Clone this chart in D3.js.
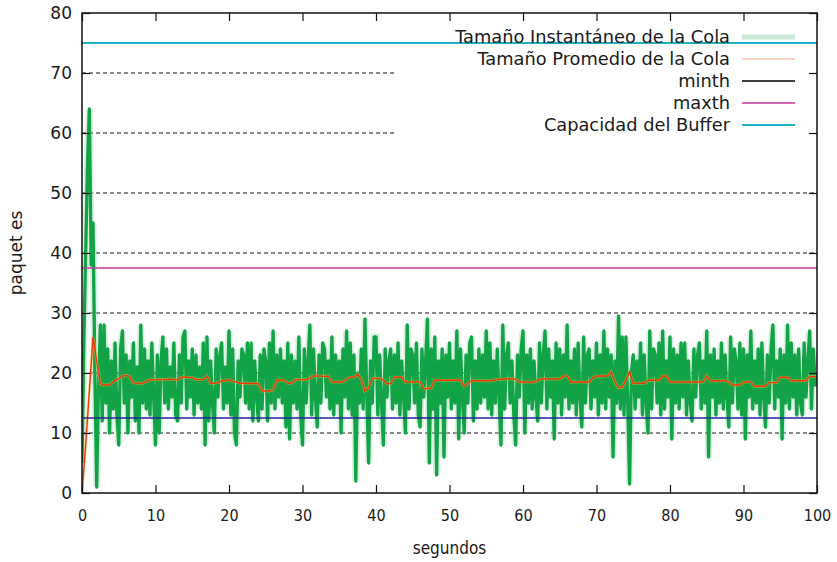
<!DOCTYPE html>
<html>
<head>
<meta charset="utf-8">
<script src="https://cdn.jsdelivr.net/npm/d3@7"></script>
<style>
body { margin: 0; background: #fff; }
text { font-family: "DejaVu Sans", sans-serif; fill: #1a1a1a; }
.condensed { font-family: "DejaVu Sans Condensed", "DejaVu Sans", sans-serif; }
</style>
</head>
<body>
<svg id="chart" width="837" height="562"></svg>
<script>
SAMPLE_STEP_INST = 0.25
SAMPLE_STEP_AVG = 0.5

/* Tamaño instantáneo de la cola, one sample every 0.25 s */
var instQueue = [
    5, 25, 40, 55,  64, 38, 45, 20,  1, 18, 28, 12,  28, 15, 24, 10,  22, 14, 25, 13,
    8, 24, 27, 15,  23, 10, 22, 16,  25, 12, 21, 10,  28, 15, 24, 14,  22, 13, 25, 16,
    8, 23, 10, 22,  26, 15, 24, 14,  21, 16, 25, 13,  12, 23, 15, 26,  27, 14, 22, 16,
    24, 13, 23, 15,  21, 14, 25, 8,  26, 12, 22, 15,  10, 24, 16, 23,  25, 14, 21, 15,
    27, 13, 24, 10,  8, 22, 16, 24,  23, 15, 25, 14,  25, 12, 22, 16,  12, 23, 14, 24,
    22, 12, 25, 15,  27, 14, 23, 16,  24, 15, 22, 11,  25, 9, 23, 15,  22, 14, 26, 13,
    8, 24, 15, 22,  28, 13, 24, 16,  11, 23, 15, 25,  24, 16, 22, 14,  26, 13, 23, 15,
    22, 10, 24, 16,  27, 14, 25, 13,  23, 2, 20, 15,  24, 14, 29, 16,  5, 22, 15, 26,
    26, 13, 23, 15,  8, 24, 16, 22,  24, 14, 23, 15,  25, 13, 22, 16,  10, 28, 14, 24,
    23, 15, 25, 13,  11, 24, 16, 22,  29, 5, 24, 14,  26, 3, 22, 15,  24, 6, 23, 16,
    25, 14, 22, 15,  27, 9, 24, 16,  10, 23, 15, 25,  26, 12, 22, 14,  24, 15, 23, 16,
    27, 14, 25, 13,  22, 15, 24, 16,  8, 28, 14, 23,  25, 15, 22, 13,  8, 23, 16, 24,
    27, 10, 23, 15,  24, 14, 22, 16,  12, 25, 15, 23,  27, 14, 24, 16,  22, 9, 25, 15,
    24, 13, 23, 16,  28, 14, 22, 15,  24, 13, 25, 16,  11, 26, 15, 23,  24, 14, 22, 16,
    25, 13, 23, 15,  27, 14, 24, 16,  23, 6, 22, 15,  29.5, 14, 26, 13,  26, 15, 1.5, 20,
    23, 14, 22, 16,  25, 13, 23, 15,  10, 27, 14, 24,  23, 15, 25, 13,  27, 14, 22, 16,
    26, 9, 24, 15,  23, 14, 25, 16,  25, 13, 22, 15,  12, 24, 16, 23,  25, 14, 22, 15,
    27, 6, 23, 16,  24, 13, 22, 15,  25, 14, 23, 16,  11, 26, 15, 24,  22, 14, 25, 13,
    24, 9, 23, 16,  27, 14, 22, 15,  24, 13, 25, 16,  11, 23, 15, 24,  28, 14, 22, 16,
    24, 9, 23, 15,  28, 14, 25, 16,  23, 13, 24, 15,  13, 25, 16, 22,  27, 14, 24, 18,
    20
];

/* Tamaño promedio de la cola, one sample every 0.5 s */
var avgQueue = [
    0, 8, 17, 26, 22, 18.2, 18, 18, 18.2, 18.8, 19, 19.5, 19.6, 19.4, 18.4, 18.3, 18.2, 18.4, 18.8, 18.9,
    18.9, 18.9, 18.9, 18.9, 19, 18.9, 18.9, 19.3, 19.3, 19.3, 19.2, 18.9, 18.9, 18.9, 19.5, 18.3, 18.3, 18.4, 18.7, 18.7,
    18.9, 18.6, 18.5, 18.3, 18.3, 18.3, 18.2, 18.3, 18.2, 17.0, 17.0, 17.0, 17.2, 18.8, 18.8, 18.8, 18.3, 18.3, 18.9, 18.9,
    18.9, 18.9, 19.1, 19.5, 19.5, 19.5, 19.4, 19.5, 18.5, 18.5, 18.5, 18.5, 19.0, 19.3, 19.3, 19.8, 19.0, 17.0, 17.5, 19.1,
    19.1, 19.1, 18.8, 18.2, 18.2, 19.3, 19.3, 19.3, 18.5, 18.5, 18.5, 18.6, 18.5, 17.4, 17.4, 17.5, 18.8, 18.8, 18.8, 18.8,
    18.8, 18.8, 18.8, 18.8, 17.8, 18.2, 18.7, 18.7, 18.7, 18.7, 18.7, 18.7, 18.8, 18.9, 19.0, 19.0, 19.0, 19.0, 19.0, 18.5,
    18.5, 18.5, 18.5, 18.5, 18.8, 19.0, 19.0, 19.0, 19.0, 19.0, 19.0, 19.5, 19.5, 18.5, 18.5, 18.5, 18.5, 18.5, 18.5, 19.2,
    19.5, 19.5, 19.5, 19.5, 20.2, 18.5, 17.6, 17.6, 18.8, 20.2, 18.3, 18.3, 18.3, 18.3, 18.8, 18.8, 18.8, 18.8, 19.5, 19.5,
    18.5, 18.5, 18.5, 18.5, 18.5, 18.5, 18.5, 18.5, 18.5, 18.5, 19.5, 18.7, 18.7, 18.7, 18.7, 18.7, 18.5, 18.0, 18.0, 18.0,
    18.5, 18.5, 18.5, 17.8, 17.8, 17.8, 17.8, 18.4, 18.4, 18.4, 19.3, 19.3, 19.3, 18.7, 18.7, 18.7, 18.7, 18.7, 19.4, 19.4,
    19.4
];

var xTicks = [0, 10, 20, 30, 40, 50, 60, 70, 80, 90, 100];
var yTicks = [0, 10, 20, 30, 40, 50, 60, 70, 80];
var gridLevels = [10, 20, 30, 40, 50, 60, 70];

var thresholdNames = ["minth", "maxth", "Capacidad del Buffer"];
var thresholdValues = [12.5, 37.5, 75];
var thresholdColors = ["#23239a", "#c2369e", "#1fb2c9"];

var legendLabels = [
    "Tamaño Instantáneo de la Cola",
    "Tamaño Promedio de la Cola",
    "minth",
    "maxth",
    "Capacidad del Buffer"
];

var margin = {left: 82, right: 20, top: 13, bottom: 69};
var svg = d3.select("#chart");
var width = 837 - margin.left - margin.right;
var height = 562 - margin.top - margin.bottom;

var x = d3.scaleLinear().domain([0, 100]).range([0, width]);
var y = d3.scaleLinear().domain([0, 80]).range([height, 0]);

var plot = svg.append("g")
    .attr("transform", "translate(" + margin.left + "," + margin.top + ")");

plot.append("clipPath").attr("id", "clip")
    .append("rect").attr("width", width).attr("height", height);

// dashed grid
plot.selectAll(".grid")
    .data(gridLevels)
    .enter().append("line")
    .attr("class", "grid")
    .attr("x1", 0).attr("x2", width)
    .attr("y1", function(d) { return y(d); })
    .attr("y2", function(d) { return y(d); })
    .attr("stroke", "#111")
    .attr("stroke-width", 1)
    .attr("stroke-dasharray", "4,3");

// opaque key box hides the grid behind the legend
var keyLeft = x(42.8);
plot.append("rect")
    .attr("x", keyLeft).attr("y", y(78.3))
    .attr("width", width - keyLeft - 1)
    .attr("height", y(58.8) - y(78.3))
    .attr("fill", "#fff");

var layer = plot.append("g").attr("clip-path", "url(#clip)");

// instantaneous queue: soft halo + line
var instLine = d3.line()
    .x(function(d, i) { return x(i * SAMPLE_STEP_INST); })
    .y(function(d) { return y(d); });
layer.append("path")
    .datum(instQueue)
    .attr("d", instLine)
    .attr("fill", "none")
    .attr("stroke", "#8fd8a8")
    .attr("stroke-opacity", 0.35)
    .attr("stroke-width", 7);
layer.append("path")
    .datum(instQueue)
    .attr("d", instLine)
    .attr("fill", "none")
    .attr("stroke", "#12a347")
    .attr("stroke-linejoin", "round")
    .attr("stroke-width", 3.3);

// average queue
var avgLine = d3.line()
    .x(function(d, i) { return x(i * SAMPLE_STEP_AVG); })
    .y(function(d) { return y(d); });
layer.append("path")
    .datum(avgQueue)
    .attr("d", avgLine)
    .attr("fill", "none")
    .attr("stroke", "#f0c040")
    .attr("stroke-opacity", 0.45)
    .attr("stroke-width", 3);
layer.append("path")
    .datum(avgQueue)
    .attr("d", avgLine)
    .attr("fill", "none")
    .attr("stroke", "#e8380c")
    .attr("stroke-width", 1.4);

// minth / maxth / buffer
layer.selectAll(".thr")
    .data(thresholdValues)
    .enter().append("line")
    .attr("class", "thr")
    .attr("x1", 0).attr("x2", width)
    .attr("y1", function(d) { return y(d); })
    .attr("y2", function(d) { return y(d); })
    .attr("stroke", function(d, i) { return thresholdColors[i]; })
    .attr("stroke-width", function(d, i) { return i == 2 ? 2 : 1.5; });

// axes with inward ticks, mirrored on top and right
var fmt = d3.format("d");
var bottomAxis = plot.append("g")
    .attr("transform", "translate(0," + height + ")")
    .call(d3.axisBottom(x).tickValues(xTicks).tickSize(-8).tickPadding(17).tickFormat(fmt));
plot.append("g")
    .call(d3.axisTop(x).tickValues(xTicks).tickSize(-8).tickFormat(""));
var leftAxis = plot.append("g")
    .call(d3.axisLeft(y).tickValues(yTicks).tickSize(-8).tickPadding(10).tickFormat(fmt));
plot.append("g")
    .attr("transform", "translate(" + width + ",0)")
    .call(d3.axisRight(y).tickValues(yTicks).tickSize(-8).tickFormat(""));

plot.selectAll(".domain").remove();
plot.selectAll(".tick line").attr("stroke", "#111").attr("stroke-width", 1.2);
bottomAxis.selectAll("text")
    .attr("class", "condensed")
    .style("font-size", "16px")
    .style("fill", "#1a1a1a");
leftAxis.selectAll("text")
    .style("font-size", "17px")
    .style("fill", "#1a1a1a");

// frame
plot.append("rect")
    .attr("width", width).attr("height", height)
    .attr("fill", "none")
    .attr("stroke", "#111")
    .attr("stroke-width", 1.5);

// legend
var sampleStyles = [
    {color: "#12a347", width: 5, opacity: 0.22},
    {color: "#e8380c", width: 1.2, opacity: 0.45},
    {color: "#000", width: 1.5, opacity: 1},
    {color: "#c2369e", width: 1.5, opacity: 1},
    {color: "#1fb2c9", width: 2, opacity: 1}
];
var legend = svg.append("g");
var legendItem = legend.selectAll(".key")
    .data(legendLabels)
    .enter().append("g")
    .attr("class", "key")
    .attr("transform", function(d, i) { return "translate(0," + (37 + i * 22) + ")"; });
legendItem.append("text")
    .attr("x", 730)
    .attr("y", 6)
    .attr("text-anchor", "end")
    .style("font-size", "17.8px")
    .text(function(d) { return d; });
legendItem.append("line")
    .attr("x1", 742).attr("x2", 795)
    .attr("stroke", function(d, i) { return sampleStyles[i].color; })
    .attr("stroke-width", function(d, i) { return sampleStyles[i].width; })
    .attr("stroke-opacity", function(d, i) { return sampleStyles[i].opacity; });

// axis titles
svg.append("text")
    .attr("class", "condensed")
    .attr("x", margin.left + width / 2)
    .attr("y", 554)
    .attr("text-anchor", "middle")
    .style("font-size", "17px")
    .text("segundos");
svg.append("text")
    .attr("transform", "translate(22," + (margin.top + height / 2) + ") rotate(-90)")
    .attr("text-anchor", "middle")
    .style("font-size", "17px")
    .text("paquet es");
</script>
</body>
</html>
